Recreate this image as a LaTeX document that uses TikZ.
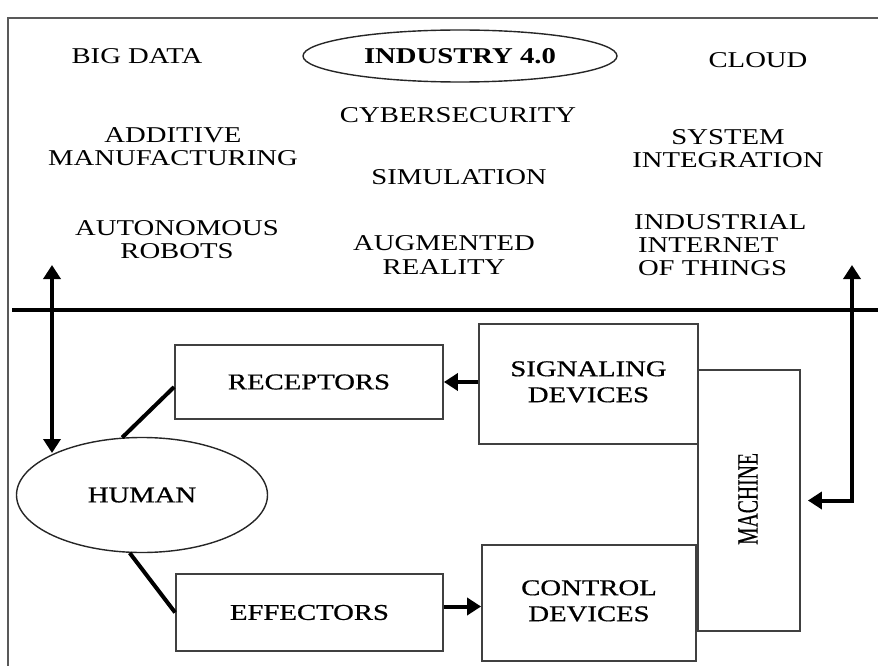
\documentclass[tikz,border=0pt]{standalone}
\usepackage{fontspec}
\setmainfont{Liberation Serif}
\newfontfamily\heavyserif[FakeBold=0.6]{Liberation Serif}
\usetikzlibrary{arrows.meta,shapes.geometric}
% horizontally widened lettering used throughout
\newcommand{\wide}[1]{\scalebox{1.27}[1]{#1}}
\newcommand{\txtstack}[2][c]{\wide{\begin{tabular}{@{}#1@{}}#2\end{tabular}}}
\begin{document}
\begin{tikzpicture}[x=1pt,y=-1pt,
  lbl/.style={inner sep=0pt, font=\fontsize{22.6}{23}\selectfont},
  boxlbl/.style={inner sep=0pt, font=\heavyserif\fontsize{22.6}{26}\selectfont},
  block/.style={draw=black!75, line width=1.8pt, fill=white, rectangle, inner sep=0pt},
  oval/.style={draw=black!85, line width=1.4pt, ellipse, inner sep=0pt, fill=white},
  link/.style={line width=4pt},
  tipA/.tip={Triangle[width=17pt,length=14pt]},
  flow/.style={line width=4pt, -tipA},
  twoway/.style={line width=4pt, tipA-tipA, line join=miter},
]
\useasboundingbox (0,0) rectangle (878,666);

% outer frame (left and top edges)
\draw[line width=2.5pt, black!65] (8,666) -- (8,18) -- (878,18);

% ---- Industry 4.0 technologies ----
\node[oval, lbl, minimum width=314pt, minimum height=52pt] (ind) at (460,56) {\wide{\bfseries INDUSTRY 4.0}};
\node[lbl] (bigdata) at (137,56) {\wide{BIG DATA}};
\node[lbl] (cloud) at (758,60) {\wide{CLOUD}};
\node[lbl] (cyber) at (458,115) {\wide{CYBERSECURITY}};
\node[lbl] (sim) at (459,177) {\wide{SIMULATION}};
\node[lbl] (additive) at (173,149.5) {\txtstack{ADDITIVE\\MANUFACTURING}};
\node[lbl] (sysint) at (728,151) {\txtstack{SYSTEM\\INTEGRATION}};
\node[lbl] (robots) at (177,242) {\txtstack{AUTONOMOUS\\ROBOTS}};
\node[lbl, font=\fontsize{22.6}{24}\selectfont] (ar) at (444,258) {\txtstack{AUGMENTED\\REALITY}};
\node[lbl, anchor=west] (iiot) at (634,248) {\txtstack[l]{INDUSTRIAL\\\hspace{3pt}INTERNET\\\hspace{3pt}OF THINGS}};

% divider between the two levels
\coordinate (divL) at (12,310);
\coordinate (divR) at (878,310);
\draw[line width=3.5pt] (divL) -- (divR);

% ---- human-machine system ----
\node[block, minimum width=102pt, minimum height=261pt] (mach) at (749,500.5) {};
\node[boxlbl, rotate=90] (machlbl) at (748,499) {\scalebox{1}[1.5]{\fontsize{19.7}{22}\selectfont MACHINE}};
\node[block, boxlbl, minimum width=219pt, minimum height=120pt] (sig) at (588.5,384) {\txtstack{SIGNALING\\DEVICES}};
\node[block, boxlbl, minimum width=214pt, minimum height=116pt] (ctl) at (589,603) {\txtstack{CONTROL\\DEVICES}};
\node[block, boxlbl, minimum width=268pt, minimum height=74pt] (rec) at (309,382) {\wide{RECEPTORS}};
\node[block, boxlbl, minimum width=267pt, minimum height=77pt] (eff) at (309.5,612.5) {\wide{EFFECTORS}};
\node[oval, boxlbl, minimum width=251pt, minimum height=115pt] (hum) at (142,495) {\wide{HUMAN}};

% human links to receptors and effectors
\draw[link] (hum.109) -- ([yshift=-5pt]rec.west);
\draw[link] (hum.258) -- (eff.west);

% information and control flow
\draw[flow] (sig.west |- rec.east) -- (rec.east);
\draw[flow] ([yshift=6pt]eff.east) -- ([yshift=6pt]eff.east -| ctl.west);

% links between the two levels
\coordinate (lefttop) at (52,265);
\coordinate (leftbot) at (52,453);
\draw[twoway] (lefttop) -- (leftbot);
\coordinate (righttop) at (852,265);
\draw[twoway] (righttop) |- ([xshift=7pt]mach.east);
\end{tikzpicture}
\end{document}
